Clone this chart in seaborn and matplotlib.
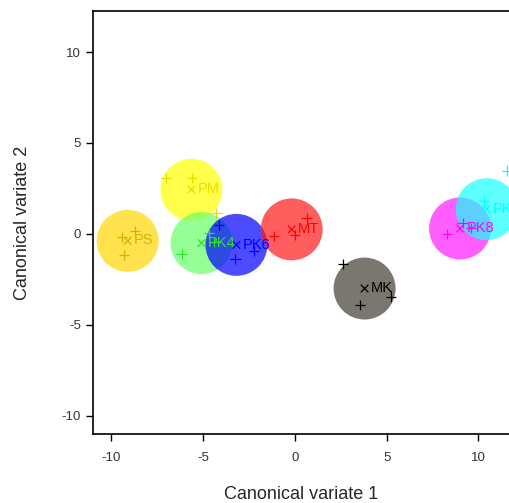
import pandas as pd
import matplotlib.pyplot as plt
import seaborn as sns

# group centroids (canonical variates 1 and 2)
groups = ['PS', 'PM', 'PK4', 'PK6', 'MT', 'MK', 'PK8', 'PK7']
cv1_mean = [-9.1, -5.63, -5.08, -3.18, -0.17, 3.8, 9.0, 10.45]
cv2_mean = [-0.38, 2.43, -0.5, -0.6, 0.25, -3.0, 0.3, 1.36]
colors = ['#FFD700', '#FFFF00', '#69FF69', '#0000FF', '#FF1A1A', '#413E30', '#FF1AFF', '#1AFFFF']
text_colors = ['#D8B000', '#E0E000', '#30E030', '#0000FF', '#FF0000', '#000000', '#FF00FF', '#00FFFF']

# individual observations
obs_group = ['PS', 'PS', 'PS', 'PM', 'PM', 'PM', 'PK4', 'PK4', 'PK4',
             'PK6', 'PK6', 'PK6', 'MT', 'MT', 'MT', 'MK', 'MK', 'MK',
             'PK8', 'PK8', 'PK8', 'PK7', 'PK7', 'PK7']
obs_cv1 = [-9.41, -8.72, -9.3, -7.03, -5.58, -4.27, -6.17, -4.69, -4.38,
           -4.12, -3.23, -2.21, -1.13, 0.64, 0.0, 2.63, 3.54, 5.23,
           8.27, 9.14, 9.59, 11.54, 10.3, 12.4]
obs_cv2 = [-0.18, 0.16, -1.17, 3.09, 3.06, 1.17, -1.1, 0.04, -0.44,
           0.49, -1.39, -0.93, -0.11, 0.86, -0.05, -1.66, -3.9, -3.44,
           -0.02, 0.59, 0.33, 3.48, 1.8, 0.5]

means = pd.DataFrame({'group': groups, 'cv1': cv1_mean, 'cv2': cv2_mean})
obs = pd.DataFrame({'group': obs_group, 'cv1': obs_cv1, 'cv2': obs_cv2})
pal = dict(zip(groups, colors))
mark_pal = dict(zip(groups, text_colors))

sns.set_style('ticks')
plt.rcParams['font.family'] = ['Liberation Sans', 'DejaVu Sans']
plt.rcParams['axes.unicode_minus'] = False

fig = plt.figure(figsize=(5.1, 5.03), dpi=100)
ax = fig.add_axes([0.182, 0.137, 0.818, 0.841])

# big shaded circles around each group mean
sns.scatterplot(data=means, x='cv1', y='cv2', hue='group', palette=pal,
                s=1990, alpha=0.7, linewidth=0, legend=False, ax=ax)
# observations
sns.scatterplot(data=obs, x='cv1', y='cv2', hue='group', palette=mark_pal,
                marker='+', s=55, linewidth=0.9, legend=False, ax=ax)
# centroid marks
sns.scatterplot(data=means, x='cv1', y='cv2', hue='group', palette=mark_pal,
                marker='x', s=30, linewidth=0.9, legend=False, ax=ax)

for g, x, y, c in zip(groups, cv1_mean, cv2_mean, text_colors):
    ax.text(x + 0.35, y + 0.02, g, color=c, fontsize=10.5, va='center', ha='left')

ax.set_xlim(-11, 11.72)
ax.set_ylim(-11, 12.25)
ax.set_xticks([-10, -5, 0, 5, 10])
ax.set_yticks([-10, -5, 0, 5, 10])
ax.spines['right'].set_visible(False)
ax.tick_params(direction='out', length=5, width=1, labelsize=9.5, colors='black',
               labelcolor='#333333')
ax.tick_params(axis='x', pad=8)
for sp in ['left', 'bottom', 'top']:
    ax.spines[sp].set_linewidth(1.2)
    ax.spines[sp].set_color('black')
ax.set_xlabel('Canonical variate 1', fontsize=13, labelpad=16)
ax.set_ylabel('Canonical variate 2', fontsize=13, labelpad=22)

fig.savefig('out.png', dpi=100)
